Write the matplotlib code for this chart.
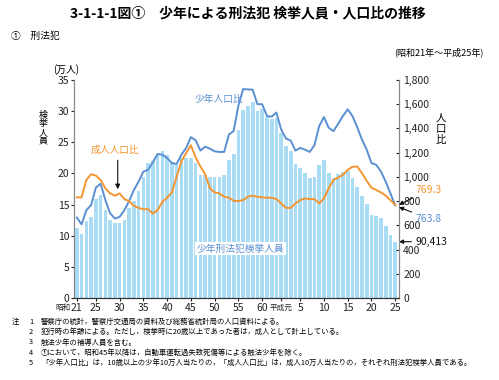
import numpy as np
import matplotlib.pyplot as plt
from matplotlib.ticker import FuncFormatter

plt.rcParams['font.family'] = ['Noto Sans CJK JP', 'DejaVu Sans']

# Data (昭和21年 = 1946 ... 平成25年 = 2013)
years = np.arange(1946, 2014)

# 少年刑法犯検挙人員 (万人)
juvenile_count = [
    11.2, 10.3, 12.4, 13.0, 15.9, 16.5, 14.2, 12.5, 12.0, 12.1,
    12.6, 14.5, 15.5, 17.1, 19.5, 21.6, 22.0, 22.9, 23.6, 23.0,
    21.8, 21.3, 22.5, 22.5, 22.5, 21.6, 19.7, 19.8, 19.4, 19.4,
    19.4, 19.7, 22.1, 23.1, 27.0, 30.2, 30.9, 31.5, 30.0, 30.4,
    29.1, 28.8, 28.9, 26.5, 24.4, 23.6, 21.5, 20.9, 20.0, 19.2,
    19.5, 21.4, 22.1, 20.0, 19.3, 19.9, 20.2, 20.4, 19.3, 17.9,
    16.4, 15.1, 13.4, 13.2, 12.8, 11.6, 10.1, 9.04,
]

# 少年人口比
juvenile_rate = [
    664, 608, 725, 767, 911, 944, 808, 700, 656, 670,
    725, 800, 892, 961, 1044, 1058, 1122, 1189, 1183, 1156,
    1114, 1106, 1183, 1239, 1328, 1303, 1217, 1250, 1233, 1211,
    1206, 1206, 1350, 1378, 1590, 1725, 1722, 1720, 1600, 1600,
    1503, 1497, 1531, 1392, 1317, 1300, 1217, 1239, 1225, 1206,
    1261, 1419, 1494, 1406, 1378, 1439, 1503, 1558, 1503, 1411,
    1308, 1225, 1114, 1100, 1044, 961, 864, 763.8,
]

# 成人人口比
adult_rate = [
    831, 831, 975, 1022, 1011, 975, 906, 864, 845, 864,
    817, 800, 761, 744, 733, 733, 697, 725, 794, 828,
    872, 1003, 1128, 1197, 1261, 1161, 1086, 1022, 906, 872,
    864, 836, 828, 803, 800, 808, 836, 845, 836, 831,
    828, 828, 817, 781, 744, 744, 781, 808, 822, 817,
    817, 781, 822, 906, 975, 994, 1017, 1058, 1083, 1086,
    1031, 967, 911, 892, 872, 845, 808, 769.3,
]

tick_years = [1946, 1950, 1955, 1960, 1965, 1970, 1975, 1980, 1985, 1989,
              1993, 1998, 2003, 2008, 2013]
tick_labels = ['21', '25', '30', '35', '40', '45', '50', '55', '60', '',
               '5', '10', '15', '20', '25']

notes = [
    '警察庁の統計，警察庁交通局の資料及び総務省統計局の人口資料による。',
    '犯行時の年齢による。ただし，検挙時に20歳以上であった者は，成人として計上している。',
    '触法少年の補導人員を含む。',
    '①において，昭和45年以降は，自動車運転過失致死傷等による触法少年を除く。',
    '「少年人口比」は，10歳以上の少年10万人当たりの，「成人人口比」は，成人10万人当たりの，それぞれ刑法犯検挙人員である。',
]

bar_color = '#aadcf5'
blue = '#5a8fd2'
orange = '#f5952f'

fig = plt.figure(figsize=(4.99, 3.8), dpi=100)
ax = fig.add_axes([74 / 499, 1 - 298 / 380, 325 / 499, 218 / 380])
ax2 = ax.twinx()

ax.bar(years, juvenile_count, width=0.78, color=bar_color, linewidth=0)
ax.set_xlim(1945.4, 2013.8)
ax.set_ylim(0, 35)
ax.set_yticks(range(0, 36, 5))
ax.set_xticks(tick_years)
ax.set_xticklabels(tick_labels)

ax2.plot(years, juvenile_rate, color=blue, lw=1.4)
ax2.plot(years, adult_rate, color=orange, lw=1.4)
ax2.set_ylim(0, 1800)
ax2.set_yticks(range(0, 1801, 200))
ax2.yaxis.set_major_formatter(FuncFormatter(lambda v, p: f'{int(v):,}'))

for a in (ax, ax2):
    a.spines['top'].set_visible(False)
    a.spines['left'].set_color('#888888')
    a.spines['right'].set_color('#888888')
    a.spines['bottom'].set_color('#333333')
    a.tick_params(labelsize=7.5, length=2, width=0.8, colors='#222222', pad=1.5)
ax.tick_params(axis='y', direction='out')
ax2.tick_params(axis='y', direction='in', pad=3)

# era labels on the x axis
ax.text(1944.6, -0.028, '昭和', transform=ax.get_xaxis_transform(),
        ha='right', va='top', fontsize=5.5, color='#222222')
ax.text(1989, -0.028, '平成元', transform=ax.get_xaxis_transform(),
        ha='center', va='top', fontsize=5.5, color='#222222')

# titles
fig.text(0.497, 0.965, '3-1-1-1図①　少年による刑法犯 検挙人員・人口比の推移',
         ha='center', va='center', fontsize=10, fontweight='bold')
fig.text(0.022, 0.905, '①　刑法犯', ha='left', va='center', fontsize=7)
fig.text(0.968, 0.862, '(昭和21年～平成25年)', ha='right', va='center', fontsize=6.5)

fig.text(66 / 499, 1 - 70 / 380, '(万人)', ha='center', va='center', fontsize=7)
fig.text(43 / 499, 1 - 128 / 380, '検\n挙\n人\n員', ha='center', va='center',
         fontsize=6.5, linespacing=0.95)
fig.text(441 / 499, 1 - 129 / 380, '人\n口\n比', ha='center', va='center',
         fontsize=7.5, linespacing=1.1)

# series labels
ax2.text(1976.0, 1645, '少年人口比', color=blue, fontsize=7, ha='center', va='center')
ax2.text(1954.0, 1220, '成人人口比', color=orange, fontsize=7, ha='center', va='center')
ax2.annotate('', xy=(1954.6, 875), xytext=(1954.6, 1160),
             arrowprops=dict(arrowstyle='-|>', color='#111111', lw=0.8,
                             mutation_scale=7))
ax.text(1980.5, 7.9, '少年刑法犯検挙人員', color=blue, fontsize=7, ha='center',
        va='center', bbox=dict(facecolor='white', edgecolor='none', pad=1.2))

# end-value call-outs
ax2.annotate('769.3', xy=(2013.8, 769.3), xytext=(2017.3, 895),
             color=orange, fontsize=7.5, va='center', annotation_clip=False,
             arrowprops=dict(arrowstyle='-|>', color='#111111', lw=0.8,
                             mutation_scale=6, shrinkA=1, shrinkB=0))
ax2.annotate('763.8', xy=(2013.8, 750), xytext=(2017.3, 655),
             color=blue, fontsize=7.5, va='center', annotation_clip=False,
             arrowprops=dict(arrowstyle='-|>', color='#111111', lw=0.8,
                             mutation_scale=6, shrinkA=1, shrinkB=0))
ax.annotate('90,413', xy=(2013.8, 9.04), xytext=(2017.3, 9.04),
            color='#111111', fontsize=7.5, va='center', annotation_clip=False,
            arrowprops=dict(arrowstyle='-|>', color='#111111', lw=0.8,
                            mutation_scale=6, shrinkA=1, shrinkB=0))

# notes
ys = [322, 332, 342.5, 353, 363]
fig.text(12 / 499, 1 - ys[0] / 380, '注', fontsize=5.3, va='center')
for i, (y, t) in enumerate(zip(ys, notes)):
    fig.text(29 / 499, 1 - y / 380, str(i + 1), fontsize=5.3, va='center')
    fig.text(41 / 499, 1 - y / 380, t, fontsize=5.3, va='center')

fig.savefig('out.png', dpi=100)
